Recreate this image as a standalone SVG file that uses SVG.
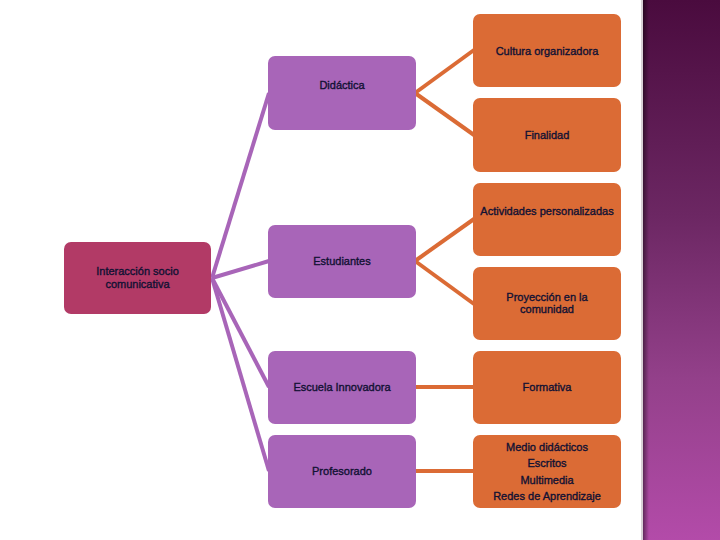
<svg xmlns="http://www.w3.org/2000/svg" width="720" height="540" viewBox="0 0 720 540">
<defs>
<linearGradient id="strip" x1="0" y1="0" x2="0" y2="1">
<stop offset="0" stop-color="#4a0b3e"/>
<stop offset="0.4" stop-color="#6c2763"/>
<stop offset="0.7" stop-color="#93408a"/>
<stop offset="1" stop-color="#b34ba9"/>
</linearGradient>
<linearGradient id="edge" x1="0" y1="0" x2="1" y2="0">
<stop offset="0" stop-color="#000" stop-opacity="0.45"/>
<stop offset="1" stop-color="#000" stop-opacity="0"/>
</linearGradient>
</defs>
<style>
.o{fill:#db6b35}
.p{fill:#a865b8}
.r{fill:#b23a66}
.t{font-family:"Liberation Sans",Arial,sans-serif;font-size:11px;fill:#111133;stroke:#111133;stroke-width:0.35;text-anchor:middle}
.lp{stroke:#a865b8;stroke-width:4;fill:none}
.lo{stroke:#db6b35;stroke-width:4;fill:none}
</style>
<rect width="720" height="540" fill="#ffffff"/>
<rect x="641" y="0" width="2" height="540" fill="#d8d0d6"/>
<rect x="643" y="0" width="77" height="540" fill="url(#strip)"/>
<rect x="643" y="0" width="6" height="540" fill="url(#edge)"/>

<g id="connectors">
<line class="lp" x1="212" y1="278" x2="269" y2="93"/>
<line class="lp" x1="212" y1="278" x2="269" y2="261"/>
<line class="lp" x1="212" y1="278" x2="269" y2="387"/>
<line class="lp" x1="212" y1="278" x2="269" y2="471"/>
<line class="lo" x1="415" y1="93" x2="474" y2="50"/>
<line class="lo" x1="415" y1="93" x2="474" y2="135"/>
<line class="lo" x1="415" y1="261" x2="474" y2="219"/>
<line class="lo" x1="415" y1="261" x2="474" y2="304"/>
<line class="lo" x1="415" y1="387" x2="474" y2="387"/>
<line class="lo" x1="415" y1="471" x2="474" y2="471"/>
</g>

<g id="interaccion">
<rect class="r" x="64" y="242" width="147" height="72" rx="7"/>
<text class="t" x="137.5" y="275">Interacción socio</text>
<text class="t" x="137.5" y="288">comunicativa</text>
</g>
<g id="didactica">
<rect class="p" x="268" y="56" width="148" height="74" rx="7"/>
<text class="t" x="342" y="89">Didáctica</text>
</g>
<g id="estudiantes">
<rect class="p" x="268" y="225" width="148" height="73" rx="7"/>
<text class="t" x="342" y="265">Estudiantes</text>
</g>
<g id="escuela">
<rect class="p" x="268" y="351" width="148" height="73" rx="7"/>
<text class="t" x="342" y="391">Escuela Innovadora</text>
</g>
<g id="profesorado">
<rect class="p" x="268" y="435" width="148" height="73" rx="7"/>
<text class="t" x="342" y="475">Profesorado</text>
</g>
<g id="cultura">
<rect class="o" x="473" y="14" width="148" height="73" rx="7"/>
<text class="t" x="547" y="55">Cultura organizadora</text>
</g>
<g id="finalidad">
<rect class="o" x="473" y="98" width="148" height="74" rx="7"/>
<text class="t" x="547" y="139">Finalidad</text>
</g>
<g id="actividades">
<rect class="o" x="473" y="183" width="148" height="73" rx="7"/>
<text class="t" x="547" y="215">Actividades personalizadas</text>
</g>
<g id="proyeccion">
<rect class="o" x="473" y="267" width="148" height="73" rx="7"/>
<text class="t" x="547" y="301">Proyección en la</text>
<text class="t" x="547" y="313">comunidad</text>
</g>
<g id="formativa">
<rect class="o" x="473" y="351" width="148" height="73" rx="7"/>
<text class="t" x="547" y="391">Formativa</text>
</g>
<g id="medio">
<rect class="o" x="473" y="435" width="148" height="73" rx="7"/>
<text class="t" x="547" y="451">Medio didácticos</text>
<text class="t" x="547" y="467">Escritos</text>
<text class="t" x="547" y="484">Multimedia</text>
<text class="t" x="547" y="500">Redes de Aprendizaje</text>
</g>
</svg>
